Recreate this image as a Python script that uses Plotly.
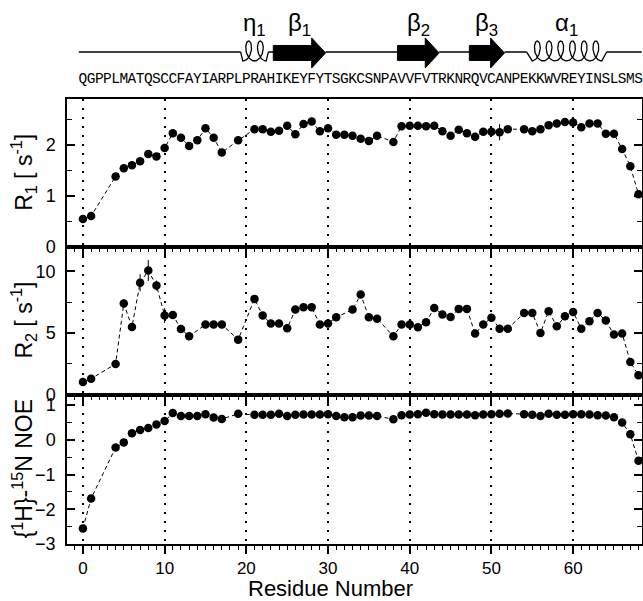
import math
import plotly.graph_objects as go

# ---------------- data ----------------
residues = [0, 1, 2, 3, 4, 5, 6, 7, 8, 9, 10, 11, 12, 13, 14, 15, 16, 17, 18, 19,
            20, 21, 22, 23, 24, 25, 26, 27, 28, 29, 30, 31, 32, 33, 34, 35, 36, 37, 38, 39,
            40, 41, 42, 43, 44, 45, 46, 47, 48, 49, 50, 51, 52, 53, 54, 55, 56, 57, 58, 59,
            60, 61, 62, 63, 64, 65, 66, 67, 68]
sequence = "QGPPLMATQSCCFAYIARPLPRAHIKEYFYTSGKCSNPAVVFVTRKNRQVCANPEKKWVREYINSLSMS"

r1 = [0.54, 0.60, None, None, 1.38, 1.54, 1.60, 1.68, 1.82, 1.77,
      1.94, 2.23, 2.14, 1.98, 2.09, 2.33, 2.14, 1.85, None, 2.09,
      None, 2.31, 2.31, 2.26, 2.28, 2.38, 2.21, 2.41, 2.46, 2.27,
      2.33, 2.20, 2.20, 2.18, 2.12, 2.08, 2.18, None, 2.06, 2.37,
      2.38, 2.38, 2.37, 2.38, 2.27, 2.18, 2.30, 2.23, 2.16, 2.26,
      2.26, 2.25, 2.31, None, 2.31, 2.27, 2.31, 2.39, 2.42, 2.45,
      2.44, 2.35, 2.42, 2.42, 2.22, 2.22, 1.92, 1.58, 1.03]
r1_err = [0.03, 0.03, 0, 0, 0.04, 0.04, 0.04, 0.04, 0.04, 0.04,
          0.04, 0.05, 0.05, 0.04, 0.05, 0.05, 0.05, 0.05, 0, 0.05,
          0, 0.05, 0.05, 0.05, 0.05, 0.05, 0.05, 0.05, 0.05, 0.05,
          0.05, 0.05, 0.05, 0.05, 0.05, 0.05, 0.05, 0, 0.05, 0.05,
          0.05, 0.05, 0.05, 0.05, 0.05, 0.05, 0.05, 0.05, 0.05, 0.05,
          0.05, 0.16, 0.05, 0, 0.05, 0.05, 0.05, 0.05, 0.05, 0.05,
          0.05, 0.05, 0.05, 0.05, 0.05, 0.05, 0.05, 0.05, 0.04]

r2 = [1.03, 1.30, None, None, 2.49, 7.38, 5.49, 9.06, 10.06, 8.84,
      6.41, 6.46, 5.33, 4.73, None, 5.68, 5.68, 5.68, None, 4.46,
      None, 7.76, 6.41, 5.76, 5.76, 5.38, 6.89, 7.08, 7.08, 5.68,
      5.76, 6.27, None, 6.89, 8.11, 6.27, 6.16, None, 4.73, 5.68,
      5.68, 5.46, 5.87, 7.03, 6.49, 6.30, 6.95, 6.95, 4.95, 5.68,
      6.24, 5.35, 5.35, None, 6.62, 6.62, 5.00, 6.76, 5.54, 6.35,
      6.70, 5.35, 5.95, 6.62, 6.00, 4.87, 4.95, 2.65, 1.57]
r2_err = [0.1, 0.1, 0, 0, 0.2, 0.35, 0.3, 0.7, 0.85, 0.4,
          0.6, 0.25, 0.2, 0.2, 0, 0.2, 0.2, 0.2, 0, 0.2,
          0, 0.25, 0.2, 0.2, 0.2, 0.2, 0.2, 0.2, 0.2, 0.2,
          0.2, 0.2, 0, 0.2, 0.25, 0.2, 0.2, 0, 0.2, 0.2,
          0.2, 0.2, 0.2, 0.2, 0.2, 0.2, 0.2, 0.2, 0.2, 0.2,
          0.2, 0.2, 0.2, 0, 0.2, 0.2, 0.2, 0.2, 0.2, 0.2,
          0.2, 0.2, 0.2, 0.2, 0.2, 0.2, 0.2, 0.15, 0.1]

noe = [-2.55, -1.69, None, None, -0.22, -0.08, 0.19, 0.28, 0.34, 0.44,
       0.54, 0.77, 0.69, 0.69, 0.69, 0.74, 0.64, 0.60, None, 0.75,
       None, 0.72, 0.72, 0.72, 0.75, 0.69, 0.72, 0.73, 0.73, 0.73,
       0.74, 0.69, 0.65, 0.65, 0.70, 0.70, 0.69, None, 0.59, 0.71,
       0.73, 0.74, 0.78, 0.74, 0.73, 0.73, 0.73, 0.73, 0.71, 0.73,
       0.74, 0.75, 0.76, None, 0.74, 0.72, 0.69, 0.75, 0.72, 0.72,
       0.74, 0.74, 0.73, 0.71, 0.70, 0.65, 0.50, 0.16, -0.60]
noe_err = [0.08, 0.06, 0, 0, 0.03, 0.03, 0.03, 0.03, 0.03, 0.03,
           0.03, 0.03, 0.03, 0.03, 0.03, 0.03, 0.03, 0.03, 0, 0.03,
           0, 0.03, 0.03, 0.03, 0.03, 0.03, 0.03, 0.03, 0.03, 0.03,
           0.03, 0.03, 0.03, 0.03, 0.03, 0.03, 0.03, 0, 0.03, 0.03,
           0.03, 0.03, 0.03, 0.03, 0.03, 0.03, 0.03, 0.03, 0.03, 0.03,
           0.03, 0.03, 0.03, 0, 0.03, 0.03, 0.03, 0.03, 0.03, 0.03,
           0.03, 0.03, 0.03, 0.03, 0.03, 0.03, 0.03, 0.04, 0.06]

# secondary structure elements (residue coordinates)
ss_labels = ["η<sub>1</sub>", "β<sub>1</sub>", "β<sub>2</sub>", "β<sub>3</sub>", "α<sub>1</sub>"]
ss_types = ["helix", "strand", "strand", "strand", "helix"]
ss_start = [19.3, 23.3, 38.5, 47.3, 54.3]
ss_end = [22.7, 29.7, 43.6, 51.6, 64.1]
ss_turns = [2, 0, 0, 0, 6]
chain_start, chain_end = -0.5, 68.4

# ---------------- layout constants (pixels of the 643x601 page) ----------------
W, H = 643, 601
PLOT_L, PLOT_R = 67, 642
PLOT_T, PLOT_B = 0, 544.4
ML, MR = PLOT_L, W - PLOT_R
MT, MB = PLOT_T, H - PLOT_B
PW = PLOT_R - PLOT_L
PH = PLOT_B - PLOT_T
px_per_res = 8.17
XR = [-1.95, -1.95 + PW / px_per_res]

def frac(ypix):
    return (PLOT_B - ypix) / PH

dom_r1 = [frac(246.7), frac(99.3)]
dom_r2 = [frac(395.0), frac(246.7)]
dom_noe = [0.0, frac(395.0)]
dom_ss = [frac(92.5), 1.0]

FONT = "Liberation Sans, Arial, Helvetica, sans-serif"
DASH = "4px,3px"

fig = go.Figure()

def add_series(y, err, xa, ya):
    fig.add_trace(go.Scatter(
        x=residues, y=y, mode="lines+markers", connectgaps=True,
        line=dict(color="black", width=1, dash=DASH),
        marker=dict(color="black", size=8.5),
        error_y=dict(type="data", array=err, color="black", thickness=1, width=0),
        cliponaxis=False,
        xaxis=xa, yaxis=ya, showlegend=False, hoverinfo="x+y"))

add_series(noe, noe_err, "x", "y")
add_series(r2, r2_err, "x2", "y2")
add_series(r1, r1_err, "x3", "y3")

# ---------------- secondary structure panel (y in page px) ----------------
line_y = 52.0
bx, by = [], []
cur = chain_start
for s, e in sorted(zip(ss_start, ss_end)):
    bx += [cur, s, None]
    by += [line_y, line_y, None]
    cur = e
bx += [cur, chain_end]
by += [line_y, line_y]
fig.add_trace(go.Scatter(x=bx, y=by, mode="lines", line=dict(color="black", width=1.5),
                         cliponaxis=False,
                         xaxis="x4", yaxis="y4", showlegend=False, hoverinfo="skip"))

pitch = 11.7 / px_per_res
bb = 5.5 / px_per_res
ymid, hh = 51.0, 10.0
for lab, typ, s, e, n in zip(ss_labels, ss_types, ss_start, ss_end, ss_turns):
    if typ == "helix":
        a = pitch / (2 * math.pi)
        length = n * pitch
        lead = (e - s - length) / 2
        t0, t1 = -math.pi, 2 * math.pi * (n - 1) + math.pi
        N = 60 * n
        cx, cy = [s], [line_y]
        for i in range(N + 1):
            t = t0 + (t1 - t0) * i / N
            cx.append(s + lead + a * (t - t0) - bb * math.sin(t))
            cy.append(ymid - hh * math.cos(t))
        cx.append(e)
        cy.append(line_y)
        fig.add_trace(go.Scatter(x=cx, y=cy, mode="lines", line=dict(color="black", width=1.3),
                                 xaxis="x4", yaxis="y4", showlegend=False, hoverinfo="skip"))
    else:
        head = 1.7
        hb = e - head
        yc = 53.0
        path = (f"M {s},{yc-7.5} L {hb},{yc-7.5} L {hb},{yc-15} L {e},{yc} "
                f"L {hb},{yc+15} L {hb},{yc+7.5} L {s},{yc+7.5} Z")
        fig.add_shape(type="path", path=path, xref="x4", yref="y4",
                      fillcolor="black", line=dict(color="black", width=1))
    fig.add_annotation(x=(s + e) / 2, y=25, xref="x4", yref="y4", text=lab,
                       showarrow=False, font=dict(family=FONT, size=24, color="black"),
                       xanchor="center", yanchor="middle")

# sequence letters, one per residue
fig.add_trace(go.Scatter(x=residues, y=[79] * len(residues), mode="text",
                         text=list(sequence), textposition="middle center",
                         textfont=dict(family="Liberation Mono, Courier New, monospace",
                                       size=14.5, color="black"),
                         cliponaxis=False,
                         xaxis="x4", yaxis="y4", showlegend=False, hoverinfo="skip"))

# ---------------- axes ----------------
def xaxis(anchor, labels):
    d = dict(range=XR, anchor=anchor, domain=[0, 1],
             showline=True, linecolor="black", linewidth=1.5, mirror=True,
             ticks="outside", ticklen=8, tickwidth=1.5, tickcolor="black",
             tick0=0, dtick=10, showticklabels=labels,
             tickfont=dict(family=FONT, size=17, color="black"),
             showgrid=True, gridcolor="black", gridwidth=1.5, griddash="2px,7px",
             zeroline=False, automargin=False,
             minor=dict(tick0=0, dtick=1, ticks="outside", ticklen=4, tickwidth=1,
                        tickcolor="black", showgrid=False))
    if anchor != "y":
        d["matches"] = "x"
    return d

def yaxis(domain, rng, dtick, mdtick, anchor):
    return dict(domain=domain, range=rng, anchor=anchor,
                showline=True, linecolor="black", linewidth=1.5, mirror="ticks",
                ticks="inside", ticklen=8, tickwidth=1.5, tickcolor="black",
                tick0=0, dtick=dtick, ticklabelstandoff=6,
                tickfont=dict(family=FONT, size=18, color="black"),
                showgrid=False, zeroline=False, automargin=False,
                minor=dict(tick0=0, dtick=mdtick, ticks="inside", ticklen=5, tickwidth=1,
                           tickcolor="black", showgrid=False))

fig.update_layout(
    width=W, height=H, margin=dict(l=ML, r=MR, t=MT, b=MB, pad=0),
    paper_bgcolor="white", plot_bgcolor="white",
    font=dict(family=FONT, color="black"),
    xaxis=xaxis("y", True),
    xaxis2=xaxis("y2", False),
    xaxis3=xaxis("y3", False),
    xaxis4=dict(range=XR, matches="x", anchor="y4", visible=False, showgrid=False),
    yaxis=yaxis(dom_noe, [-3, 1.3], 1, 0.5, "x"),
    yaxis2=yaxis(dom_r2, [0, 12], 5, 2.5, "x2"),
    yaxis3=yaxis(dom_r1, [0, 2.9], 1, 0.5, "x3"),
    yaxis4=dict(domain=dom_ss, range=[92.5, PLOT_T], anchor="x4", visible=False,
                showgrid=False, zeroline=False),
)

# axis titles (aligned like the original)
title_x = (23 - PLOT_L) / PW
for text, dom, fs in [("R<sub>1</sub> [ s<sup>-1</sup>]", dom_r1, 23),
                      ("R<sub>2</sub> [ s<sup>-1</sup>]", dom_r2, 23),
                      ("{<sup>1</sup>H}-<sup>15</sup>N NOE", dom_noe, 23)]:
    fig.add_annotation(x=title_x, y=(dom[0] + dom[1]) / 2, xref="paper", yref="paper",
                       text=text, textangle=-90, showarrow=False,
                       font=dict(family=FONT, size=fs, color="black"),
                       xanchor="center", yanchor="middle")
fig.add_annotation(x=(330 - PLOT_L) / PW, y=frac(589), xref="paper", yref="paper",
                   text="Residue Number", showarrow=False,
                   font=dict(family=FONT, size=22, color="black"),
                   xanchor="center", yanchor="middle")

# remove the default 8px page margin so the figure sits at the window's corner
fig.write_html("out.html",
               config={"displayModeBar": False},
               post_script="document.body.style.margin='0';"
                           "document.body.style.overflow='hidden';")
